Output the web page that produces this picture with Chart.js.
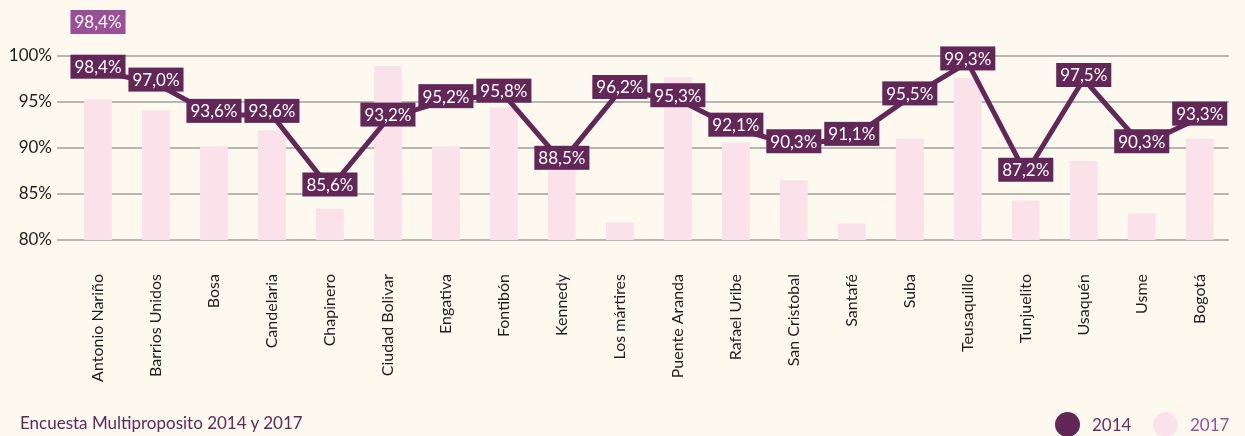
<!DOCTYPE html>
<html lang="es">
<head>
<meta charset="UTF-8">
<title>Encuesta Multiproposito 2014 y 2017</title>
<script src="https://cdn.jsdelivr.net/npm/chart.js"></script>
<style>
  html, body { margin:0; padding:0; background:#fdf9ee; }
  #wrap { position:relative; width:1245px; height:436px; font-family:Lato, "Open Sans", sans-serif; }
  #chartBox { position:absolute; left:0; top:0; width:1245px; height:436px; }
  .source { position:absolute; left:20px; top:412px; font-size:17px; color:#622657; }
  .legend { position:absolute; top:412px; font-size:17px; display:flex; align-items:center; }
  .dot { width:25px; height:25px; border-radius:50%; display:inline-block; margin-right:12px; }
</style>
</head>
<body>
<div id="wrap">
  <div id="chartBox"><canvas id="chart"></canvas></div>
  <div class="source">Encuesta Multiproposito 2014 y 2017</div>
  <div class="legend" style="left:1055px;"><span class="dot" style="background:#622657"></span><span style="color:#6b2c5f">2014</span></div>
  <div class="legend" style="left:1153px;"><span class="dot" style="background:#fbe2ea"></span><span style="color:#9b4f96">2017</span></div>
</div>
<script>
const localidades = ["Antonio Nariño", "Barrios Unidos", "Bosa", "Candelaria", "Chapinero", "Ciudad Bolivar",
  "Engativa", "Fontibón", "Kennedy", "Los mártires", "Puente Aranda", "Rafael Uribe", "San Cristobal",
  "Santafé", "Suba", "Teusaquillo", "Tunjuelito", "Usaquén", "Usme", "Bogotá"];
const valores2014 = [98.4, 97.0, 93.6, 93.6, 85.6, 93.2, 95.2, 95.8, 88.5, 96.2, 95.3, 92.1, 90.3, 91.1, 95.5, 99.3, 87.2, 97.5, 90.3, 93.3];
const valores2017 = [95.3, 94.1, 90.2, 91.9, 83.4, 98.9, 90.2, 94.4, 89.8, 81.9, 97.7, 90.6, 86.5, 81.8, 91.0, 97.6, 84.3, 88.6, 82.9, 91.0];
const yTicks = [80, 85, 90, 95, 100];
const etiquetaSuelta = "98,4%";

const dark = "#622657";
const fmt = v => v.toFixed(1).replace(".", ",") + "%";

// white-on-purple value boxes over the 2014 line
const boxLabels = {
  id: "boxLabels",
  afterDatasetsDraw(chart) {
    const ctx = chart.ctx;
    const meta = chart.getDatasetMeta(1);
    ctx.save();
    ctx.font = "17px Lato, 'Open Sans', sans-serif";
    ctx.textAlign = "center";
    ctx.textBaseline = "middle";
    const box = (x, y, txt, fill) => {
      const w = ctx.measureText(txt).width + 8;
      const h = 24;
      ctx.fillStyle = fill;
      ctx.fillRect(x - w / 2, y - h / 2, w, h);
      ctx.fillStyle = "#ffffff";
      ctx.fillText(txt, x, y + 1);
    };
    meta.data.forEach((pt, i) => box(pt.x, pt.y - 4, fmt(valores2014[i]), dark));
    const first = meta.data[0];
    box(first.x, 22, etiquetaSuelta, "#9b4f96");
    ctx.restore();
  }
};

new Chart(document.getElementById("chart"), {
  data: {
    labels: localidades,
    datasets: [
      {
        type: "bar",
        label: "2017",
        data: valores2017,
        backgroundColor: "#fbe2ea",
        categoryPercentage: 1,
        barPercentage: 0.48,
        order: 2
      },
      {
        type: "line",
        label: "2014",
        data: valores2014,
        borderColor: dark,
        borderWidth: 5,
        pointRadius: 0,
        tension: 0,
        order: 1
      }
    ]
  },
  options: {
    responsive: true,
    maintainAspectRatio: false,
    animation: false,
    layout: { padding: { top: 56, right: 3, left: 0, bottom: 0 } },
    plugins: { legend: { display: false }, tooltip: { enabled: false } },
    scales: {
      x: {
        grid: { display: false },
        border: { display: false },
        ticks: {
          minRotation: 90, maxRotation: 90, autoSkip: false, padding: 26,
          color: "#1e1e1e", font: { family: "Lato, 'Open Sans', sans-serif", size: 16 }
        },
        afterFit(scale) { scale.height = 196; }
      },
      y: {
        min: 80, max: 100,
        afterBuildTicks(scale) { scale.ticks = yTicks.map(v => ({ value: v })); },
        grid: { color: "#b8b6b0", lineWidth: 2, tickLength: 12 },
        border: { display: false },
        ticks: {
          padding: 5, color: "#1e1e1e",
          font: { family: "Lato, 'Open Sans', sans-serif", size: 17 },
          callback: v => v + "%"
        },
        afterFit(scale) { scale.width = 69; }
      }
    }
  },
  plugins: [boxLabels]
});
</script>
</body>
</html>
